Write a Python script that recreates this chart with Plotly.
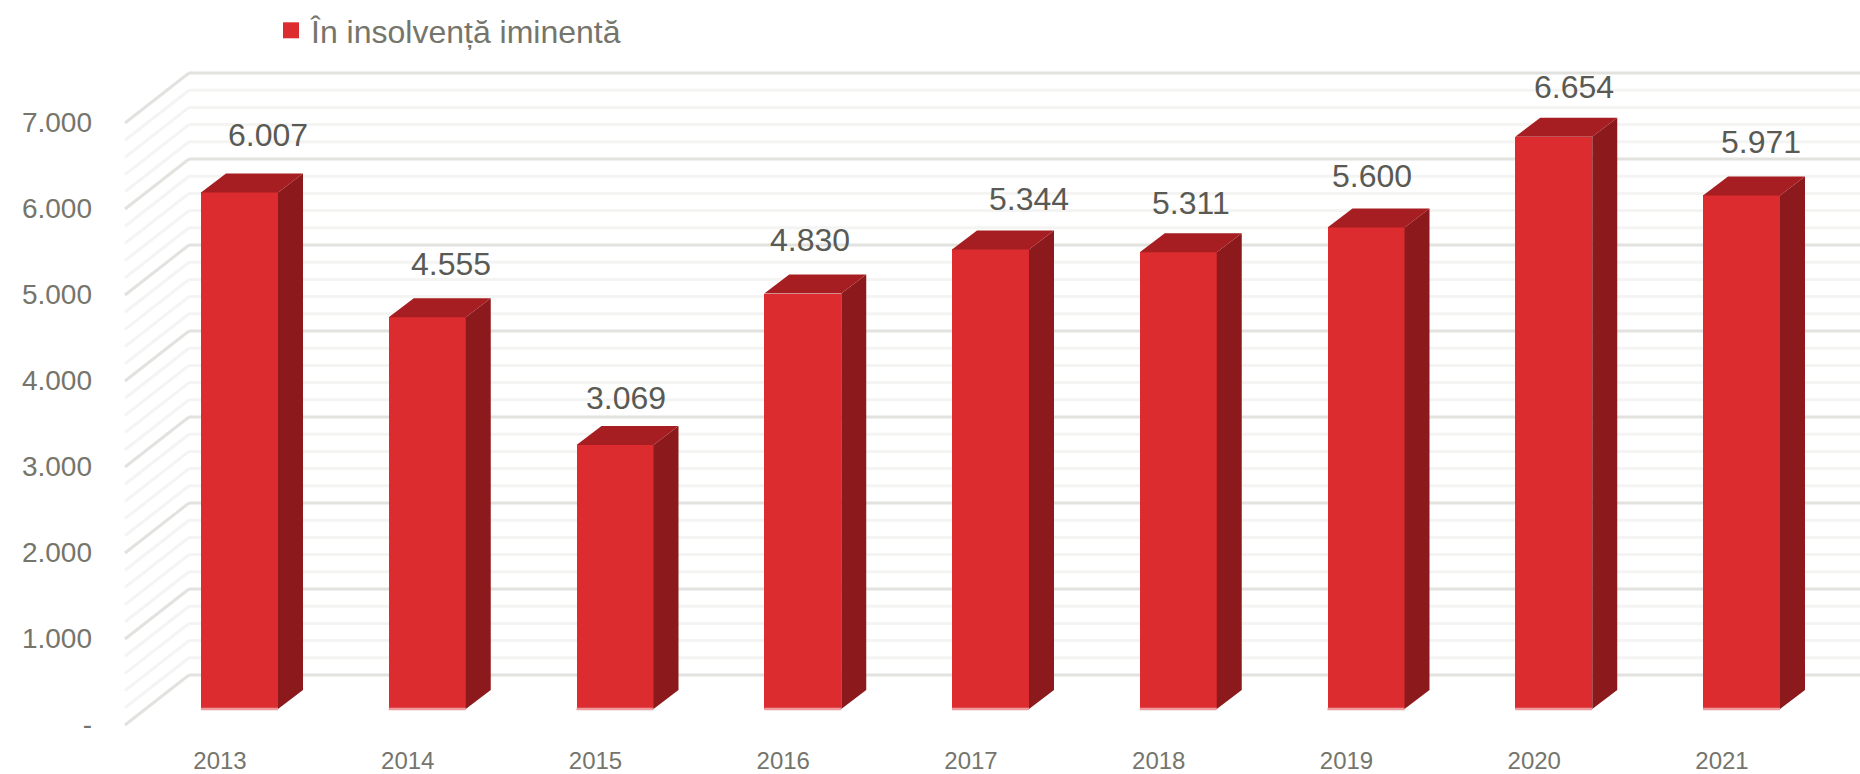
import plotly.graph_objects as go

# ---- data ----
years = ["2013", "2014", "2015", "2016", "2017", "2018", "2019", "2020", "2021"]
values = [6007, 4555, 3069, 4830, 5344, 5311, 5600, 6654, 5971]
value_labels = ["6.007", "4.555", "3.069", "4.830", "5.344", "5.311", "5.600", "6.654", "5.971"]
series_name = "În insolvență iminentă"
y_ticks = [0, 1000, 2000, 3000, 4000, 5000, 6000, 7000]
y_tick_labels = ["-", "1.000", "2.000", "3.000", "4.000", "5.000", "6.000", "7.000"]
label_dx = [28, 24, 11, 7, 38, 13, 6, 20, 19]
label_dy = [57, 53, 47, 54, 50, 49, 51, 50, 53]

# ---- pseudo-3D geometry (in axis units) ----
W, H = 1860, 774
PX_X = 187.75          # px per category
PX_Y = 0.086           # px per value unit
X0 = 239.5             # px of first bar centre
PLOT_L, PLOT_R, PLOT_T, PLOT_B = 120, 1860, 60, 730
Y0 = 725               # px of value 0 on front wall edge
bar_w = 77 / PX_X
bar_base = 16 / PX_Y
bar_dx, bar_dy = 25 / PX_X, 19 / PX_Y
wall_dx, wall_dy = 64 / PX_X, 50 / PX_Y
wall_left = (125 - X0) / PX_X
tick_nudge = 0.5 / PX_Y

FRONT, SIDE, TOP = "#dd2c2f", "#8c1a1d", "#a71e22"
MAJOR, MINOR = "#e2e2df", "#f4f4f3"
TICK, LABEL = "#75756c", "#5a5a54"
FONT = "Liberation Sans"

xs = list(range(len(years)))
x_range = [(PLOT_L - X0) / PX_X, (PLOT_R - X0) / PX_X]
y_range = [(Y0 - PLOT_B) / PX_Y, (Y0 - PLOT_T) / PX_Y]

fig = go.Figure()

# walls
shapes = []
for v in range(0, 7001, 200):
    major = v % 1000 == 0
    line = dict(color=MAJOR if major else MINOR, width=3)
    shapes.append(dict(type="line", layer="below", xref="x", yref="y", x0=wall_left, y0=v,
                       x1=wall_left + wall_dx, y1=v + wall_dy, line=line))
    shapes.append(dict(type="line", layer="below", xref="x", yref="y", x0=wall_left + wall_dx, y0=v + wall_dy,
                       x1=x_range[1], y1=v + wall_dy, line=line))

# front faces
fig.add_trace(go.Bar(x=xs, y=values, base=bar_base, width=bar_w, marker=dict(color=FRONT, line_width=0),
                     showlegend=False, hoverinfo="skip"))

# side & top faces
side_x, side_y, top_x, top_y, edge_x, edge_y = [], [], [], [], [], []
for x, v in zip(xs, values):
    r, l = x + bar_w / 2, x - bar_w / 2
    b, t = bar_base, bar_base + v
    side_x += [r, r + bar_dx, r + bar_dx, r, r, None]
    side_y += [b, b + bar_dy, t + bar_dy, t, b, None]
    top_x += [l, l + bar_dx, r + bar_dx, r, l, None]
    top_y += [t, t + bar_dy, t + bar_dy, t, t, None]
    edge_x += [l, r, None]
    edge_y += [b, b, None]
fig.add_trace(go.Scatter(x=side_x, y=side_y, mode="lines", fill="toself", fillcolor=SIDE, line=dict(width=0),
                         showlegend=False, hoverinfo="skip"))
fig.add_trace(go.Scatter(x=top_x, y=top_y, mode="lines", fill="toself", fillcolor=TOP, line=dict(width=0),
                         showlegend=False, hoverinfo="skip"))
fig.add_trace(go.Scatter(x=edge_x, y=edge_y, mode="lines", line=dict(width=2.5, color="#ee9a9f"),
                         showlegend=False, hoverinfo="skip"))

# legend entry
fig.add_trace(go.Scatter(x=[None], y=[None], mode="markers", name=series_name,
                         marker=dict(symbol="square", size=17, color=FRONT), showlegend=True))

annotations = [
    dict(x=x, y=bar_base + v, xref="x", yref="y", text=t, showarrow=False, xshift=dx, yshift=dy,
         xanchor="center", yanchor="middle", font=dict(family=FONT, size=32, color=LABEL))
    for x, v, t, dx, dy in zip(xs, values, value_labels, label_dx, label_dy)
]

fig.update_layout(
    width=W, height=H, autosize=False,
    margin=dict(l=PLOT_L, r=W - PLOT_R, t=PLOT_T, b=H - PLOT_B, pad=0, autoexpand=False),
    paper_bgcolor="white", plot_bgcolor="white",
    shapes=shapes, annotations=annotations, bargap=0,
    font=dict(family=FONT, color=TICK),
    xaxis=dict(range=x_range, tickmode="array", tickvals=[x - 19.5 / PX_X for x in xs], ticktext=years,
               showgrid=False, zeroline=False, showline=False, ticks="", ticklabelstandoff=14,
               tickfont=dict(size=24, color=TICK)),
    yaxis=dict(range=y_range, tickmode="array", tickvals=[v + tick_nudge for v in y_ticks], ticktext=y_tick_labels,
               showgrid=False, zeroline=False, showline=False, ticks="", ticklabelstandoff=27,
               tickfont=dict(size=28, color=TICK)),
    legend=dict(orientation="h", x=(271 - PLOT_L) / (PLOT_R - PLOT_L), y=(PLOT_B - 3) / (PLOT_B - PLOT_T),
                xanchor="left", yanchor="top", bgcolor="rgba(0,0,0,0)",
                font=dict(family=FONT, size=32, color=TICK)),
)

fig.write_html("out.html", config={"displayModeBar": False}, post_script="document.body.style.margin='0';")
